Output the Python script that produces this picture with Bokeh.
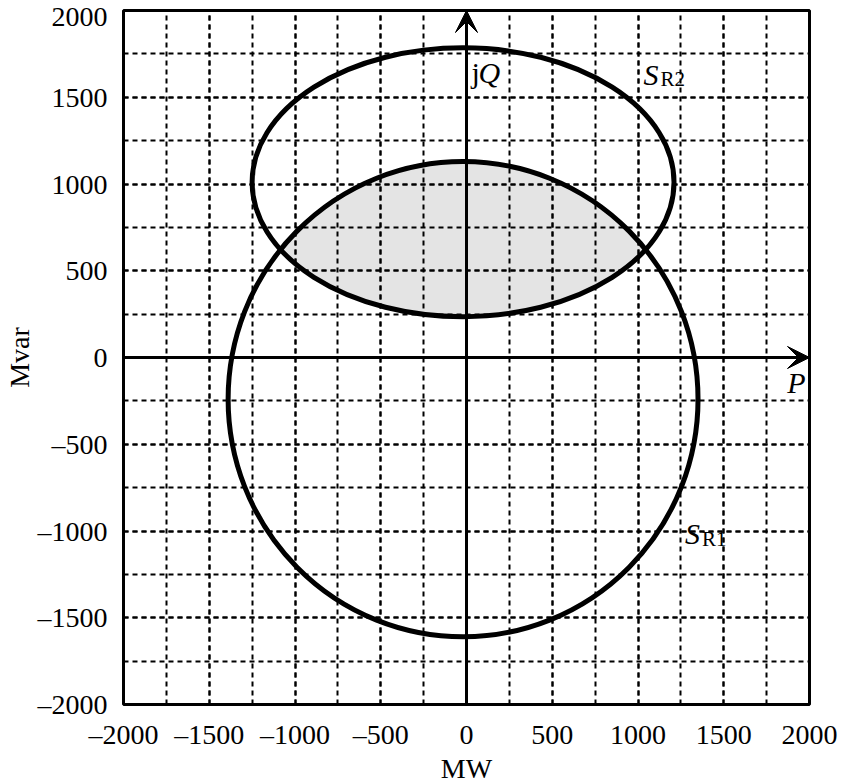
import numpy as np
from bokeh.plotting import figure
from bokeh.models import FixedTicker, Arrow, VeeHead, Label
from bokeh.embed import file_html
from bokeh.resources import INLINE

# ---- data ----
x_ticks = [-2000, -1500, -1000, -500, 0, 500, 1000, 1500, 2000]
y_ticks = [-2000, -1500, -1000, -500, 0, 500, 1000, 1500, 2000]
tick_labels = ["\u20132000", "\u20131500", "\u20131000", "\u2013500", "0", "500", "1000", "1500", "2000"]
minor_ticks = list(range(-2000, 2001, 250))

sr1_cx, sr1_cy = -20, -240      # circle S_R1 centre (MW, Mvar)
sr1_r = 1370                    # radius
sr2_cx, sr2_cy = -20, 1010      # ellipse S_R2 centre
sr2_a, sr2_b = 1230, 775        # semi-axes

FONT = "Liberation Serif"

# ---- intersection region (star-shaped from an interior point) ----
ox, oy = -20.0, 600.0
t = np.linspace(0, 2 * np.pi, 1441)
dx, dy = np.cos(t), np.sin(t)
px, py = ox - sr1_cx, oy - sr1_cy
bb = dx * px + dy * py
r1 = -bb + np.sqrt(bb ** 2 - (px ** 2 + py ** 2 - sr1_r ** 2))
ux, uy = (ox - sr2_cx) / sr2_a, (oy - sr2_cy) / sr2_b
vx, vy = dx / sr2_a, dy / sr2_b
vv = vx ** 2 + vy ** 2
uv = ux * vx + uy * vy
uu = ux ** 2 + uy ** 2
r2 = (-uv + np.sqrt(uv ** 2 - vv * (uu - 1))) / vv
rr = np.minimum(r1, r2)
patch_x = ox + rr * dx
patch_y = oy + rr * dy

p = figure(frame_width=686, frame_height=694,
           x_range=(-2000, 2000), y_range=(-2000, 2000),
           output_backend="svg", toolbar_location=None,
           min_border_left=100, min_border_top=10, min_border_right=30, min_border_bottom=60,
           x_axis_label="MW", y_axis_label="Mvar")

pr = p.patch(patch_x, patch_y, fill_color="#e4e4e4", line_color=None)
pr.level = "image"

for ax, ticks in ((p.xaxis[0], x_ticks), (p.yaxis[0], y_ticks)):
    ax.ticker = FixedTicker(ticks=ticks, minor_ticks=minor_ticks)
    ax.major_label_overrides = {k: v for k, v in zip(ticks, tick_labels)}
    ax.major_tick_line_color = None
    ax.minor_tick_line_color = None
    ax.axis_line_color = None
    ax.major_label_text_font = FONT
    ax.major_label_text_font_size = "28px"
    ax.major_label_text_color = "black"
    ax.axis_label_text_font = FONT
    ax.axis_label_text_font_style = "normal"
    ax.axis_label_text_font_size = "28px"
    ax.axis_label_text_color = "black"

p.xaxis.major_label_standoff = 8
p.xaxis.axis_label_standoff = 0
p.yaxis.major_label_standoff = 10
p.yaxis.axis_label_standoff = 0

for g in (p.xgrid[0], p.ygrid[0]):
    g.grid_line_color = "black"
    g.grid_line_width = 2
    g.grid_line_dash = "5 4"
    g.minor_grid_line_color = "black"
    g.minor_grid_line_width = 2
    g.minor_grid_line_dash = "5 4"

p.outline_line_color = "black"
p.outline_line_width = 3
p.background_fill_color = "white"

p.ellipse(x=[sr1_cx], y=[sr1_cy], width=[2 * sr1_r], height=[2 * sr1_r],
          fill_color=None, line_color="black", line_width=5)
p.ellipse(x=[sr2_cx], y=[sr2_cy], width=[2 * sr2_a], height=[2 * sr2_b],
          fill_color=None, line_color="black", line_width=5)

p.add_layout(Arrow(end=VeeHead(size=22, fill_color="black", line_color="black"),
                   x_start=-2000, y_start=0, x_end=2000, y_end=0,
                   line_width=3, line_color="black"))
p.add_layout(Arrow(end=VeeHead(size=22, fill_color="black", line_color="black"),
                   x_start=0, y_start=-2000, x_end=0, y_end=2000,
                   line_width=3, line_color="black"))


def lab(x, y, text, style="normal", size="30px", xo=0, yo=0):
    p.add_layout(Label(x=x, y=y, text=text, text_font=FONT, text_font_style=style,
                       text_font_size=size, text_color="black",
                       x_offset=xo, y_offset=yo + 11,
                       text_baseline="alphabetic", text_align="left"))


lab(29, 1580, "j")
lab(29, 1580, "Q", "italic", xo=7)
lab(1032, 1569, "S", "italic")
lab(1032, 1569, "R2", size="21px", xo=17, yo=-5)
lab(1274, -1080, "S", "italic")
lab(1274, -1080, "R1", size="21px", xo=17, yo=-5)
lab(1870, -207, "P", "italic")

open("out.html", "w").write(file_html(p, INLINE))
